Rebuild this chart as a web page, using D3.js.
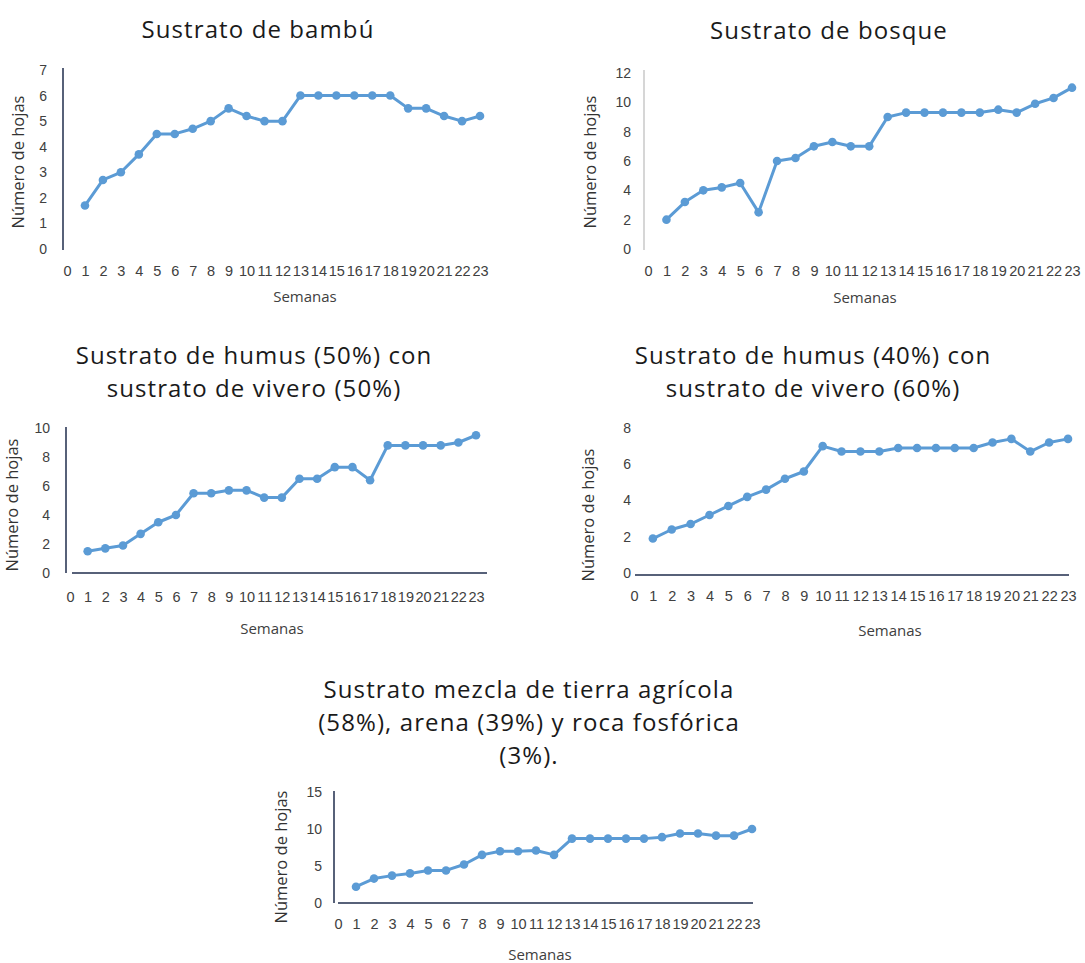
<!DOCTYPE html>
<html><head><meta charset="utf-8">
<script src="https://cdn.jsdelivr.net/npm/d3@7"></script>
<style>
body{margin:0;background:#fff;}
svg{display:block;font-family:"Open Sans","Noto Sans",sans-serif;}
</style></head>
<body><svg id="c" width="1085" height="963"></svg>
<script>
// ---- data ----
const weeks = d3.range(1, 24);                 // semanas 1..23
const xTickLabels = d3.range(0, 24);           // 0..23
const bambu   = [1.7,2.7,3.0,3.7,4.5,4.5,4.7,5.0,5.5,5.2,5.0,5.0,6.0,6.0,6.0,6.0,6.0,6.0,5.5,5.5,5.2,5.0,5.2];
const bosque  = [2.0,3.2,4.0,4.2,4.5,2.5,6.0,6.2,7.0,7.3,7.0,7.0,9.0,9.3,9.3,9.3,9.3,9.3,9.5,9.3,9.9,10.3,11.0];
const humus50 = [1.5,1.7,1.9,2.7,3.5,4.0,5.5,5.5,5.7,5.7,5.2,5.2,6.5,6.5,7.3,7.3,6.4,8.8,8.8,8.8,8.8,9.0,9.5];
const humus40 = [1.9,2.4,2.7,3.2,3.7,4.2,4.6,5.2,5.6,7.0,6.7,6.7,6.7,6.9,6.9,6.9,6.9,6.9,7.2,7.4,6.7,7.2,7.4];
const mezcla  = [2.2,3.3,3.7,4.0,4.4,4.4,5.2,6.5,7.0,7.0,7.1,6.5,8.7,8.7,8.7,8.7,8.7,8.9,9.4,9.4,9.1,9.1,10.0];
const yTicksBambu   = [0,1,2,3,4,5,6,7];
const yTicksBosque  = [0,2,4,6,8,10,12];
const yTicksHumus50 = [0,2,4,6,8,10];
const yTicksHumus40 = [0,2,4,6,8];
const yTicksMezcla  = [0,5,10,15];
const titles = [
  ["Sustrato de bambú"],
  ["Sustrato de bosque"],
  ["Sustrato  de humus (50%) con","sustrato de vivero (50%)"],
  ["Sustrato  de humus (40%) con","sustrato de vivero (60%)"],
  ["Sustrato mezcla de tierra agrícola","(58%), arena (39%) y roca fosfórica","(3%)."]
];
const yLabel = "Número de hojas";
const xLabel = "Semanas";

// ---- layout ----
const blue = "#5b9bd5";
const svg = d3.select("#c");

const panels = [
  {vals:bambu, ticks:yTicksBambu, title:titles[0], xr:[67,480], yr:[249,70], dom:7,
   titleX:258, titleY:38, yAxis:{color:"#1f2d4d", y0:250, y1:68}, xAxis:null,
   yLabX:20, yLabY:162, xLabX:305, xLabY:302, xTickY:277, yTickX:47},
  {vals:bosque, ticks:yTicksBosque, title:titles[1], xr:[648,1072], yr:[249,73], dom:12,
   titleX:829, titleY:39, yAxis:{color:"#c8c8c8", y0:250, y1:70}, xAxis:null,
   yLabX:592, yLabY:162, xLabX:865, xLabY:303, xTickY:277, yTickX:631},
  {vals:humus50, ticks:yTicksHumus50, title:titles[2], xr:[70,476], yr:[573,428], dom:10,
   titleX:254, titleY:364, yAxis:{color:"#1f2d4d", y0:573, y1:427}, xAxis:{color:"#1f2d4d", x0:72, x1:487, y:573},
   yLabX:14, yLabY:505, xLabX:272, xLabY:634, xTickY:603, yTickX:50},
  {vals:humus40, ticks:yTicksHumus40, title:titles[3], xr:[634,1068], yr:[573,428], dom:8,
   titleX:813, titleY:364, yAxis:null, xAxis:{color:"#1f2d4d", x0:635, x1:1069, y:575},
   yLabX:590, yLabY:515, xLabX:890, xLabY:636, xTickY:602, yTickX:631},
  {vals:mezcla, ticks:yTicksMezcla, title:titles[4], xr:[338,752], yr:[903,792], dom:15,
   titleX:529, titleY:698, yAxis:{color:"#1f2d4d", y0:903, y1:791}, xAxis:{color:"#1f2d4d", x0:338, x1:753, y:903},
   yLabX:283, yLabY:857, xLabX:540, xLabY:960, xTickY:930, yTickX:322}
];

panels.forEach(p => {
  const g = svg.append("g");
  const x = d3.scaleLinear().domain([0, 23]).range(p.xr);
  const y = d3.scaleLinear().domain([0, p.dom]).range(p.yr);

  // title
  const t = g.append("text").attr("text-anchor","middle").attr("font-size",24)
    .attr("letter-spacing","1.1px").attr("fill","#1a1a1a");
  p.title.forEach((line,i)=>{
    t.append("tspan").attr("x",p.titleX).attr("y",p.titleY + i*33).text(line);
  });

  // y axis (ticks via axis generator, no tick lines)
  const ya = d3.axisLeft(y).tickValues(p.ticks).tickSize(0).tickPadding(0).tickFormat(d3.format("d"));
  const yg = g.append("g").attr("transform",`translate(${p.yTickX+4},0)`).call(ya);
  yg.select(".domain").remove();
  yg.selectAll("text").attr("font-size",14).attr("fill","#404040").attr("dx",-4);

  // x axis labels
  const xa = d3.axisBottom(x).tickValues(xTickLabels).tickSize(0).tickPadding(0).tickFormat(d3.format("d"));
  const xg = g.append("g").attr("transform",`translate(0,${p.xTickY-11})`).call(xa);
  xg.select(".domain").remove();
  xg.selectAll("text").attr("font-size",14.5).attr("fill","#404040");

  // axis lines
  if (p.yAxis) g.append("line").attr("x1",x(0)-4).attr("x2",x(0)-4)
      .attr("y1",p.yAxis.y0).attr("y2",p.yAxis.y1).attr("stroke",p.yAxis.color).attr("stroke-width",1.5);
  if (p.xAxis) g.append("line").attr("x1",p.xAxis.x0).attr("x2",p.xAxis.x1)
      .attr("y1",p.xAxis.y).attr("y2",p.xAxis.y).attr("stroke",p.xAxis.color).attr("stroke-width",1.5);

  // axis titles
  g.append("text").attr("transform",`translate(${p.yLabX},${p.yLabY}) rotate(-90)`)
    .attr("text-anchor","middle").attr("dominant-baseline","middle")
    .attr("font-size",16.5).attr("fill","#333").text(yLabel);
  g.append("text").attr("x",p.xLabX).attr("y",p.xLabY).attr("text-anchor","middle")
    .attr("font-size",15).attr("fill","#404040").text(xLabel);

  // series
  const data = weeks.map((w,i)=>({w, v:p.vals[i]}));
  g.append("path").datum(data)
    .attr("d", d3.line().x(d=>x(d.w)).y(d=>y(d.v)))
    .attr("fill","none").attr("stroke",blue).attr("stroke-width",3).attr("stroke-linejoin","round");
  g.selectAll("circle.pt").data(data).join("circle").attr("class","pt")
    .attr("cx",d=>x(d.w)).attr("cy",d=>y(d.v)).attr("r",4.3).attr("fill",blue);
});
</script></body></html>
